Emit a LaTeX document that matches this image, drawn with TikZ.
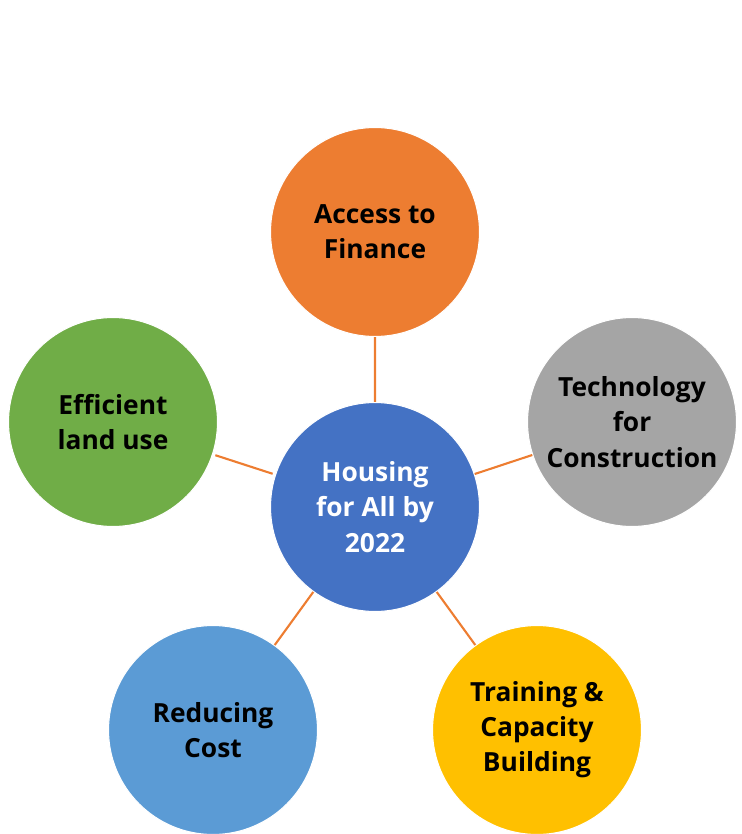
\documentclass[tikz,border=0pt]{standalone}
\usepackage{fontspec}
\setmainfont{Open Sans}
\definecolor{cOrange}{HTML}{ED7D31}
\definecolor{cGray}{HTML}{A5A5A5}
\definecolor{cBlue}{HTML}{4472C4}
\definecolor{cGreen}{HTML}{70AD47}
\definecolor{cSky}{HTML}{5B9BD5}
\definecolor{cGold}{HTML}{FFC000}
\tikzset{
  bubble/.style={circle,draw=white,line width=.6pt,minimum size=4.18cm,inner sep=0pt,align=center,text=black},
  spoke/.style={draw=cOrange,line width=1.2pt,shorten >=1.5pt,shorten <=1.5pt}
}
\begin{document}
\begin{tikzpicture}[x=0.02cm,y=-0.02cm,line join=round,font=\fontsize{15}{20}\selectfont\bfseries]
			\useasboundingbox (0,0) rectangle (742,834);
			\node[bubble,fill=cBlue,text=white] (hub) at (375,507) {Housing\\for All by\\2022};
			\node[bubble,fill=cOrange] (fin) at (375,232) {Access to\\Finance};
			\node[bubble,fill=cGray] (tech) at (632,422) {Technology\\for\\Construction};
			\node[bubble,fill=cGold] (train) at (537,730) {Training \&\\Capacity\\Building};
			\node[bubble,fill=cSky] (cost) at (213,730) {Reducing\\Cost};
			\node[bubble,fill=cGreen] (land) at (113,422) {Efficient\\land use};
			\draw[spoke] (hub)--(fin) (hub)--(tech) (hub)--(train) (hub)--(cost) (hub)--(land);
		\end{tikzpicture}
\end{document}
